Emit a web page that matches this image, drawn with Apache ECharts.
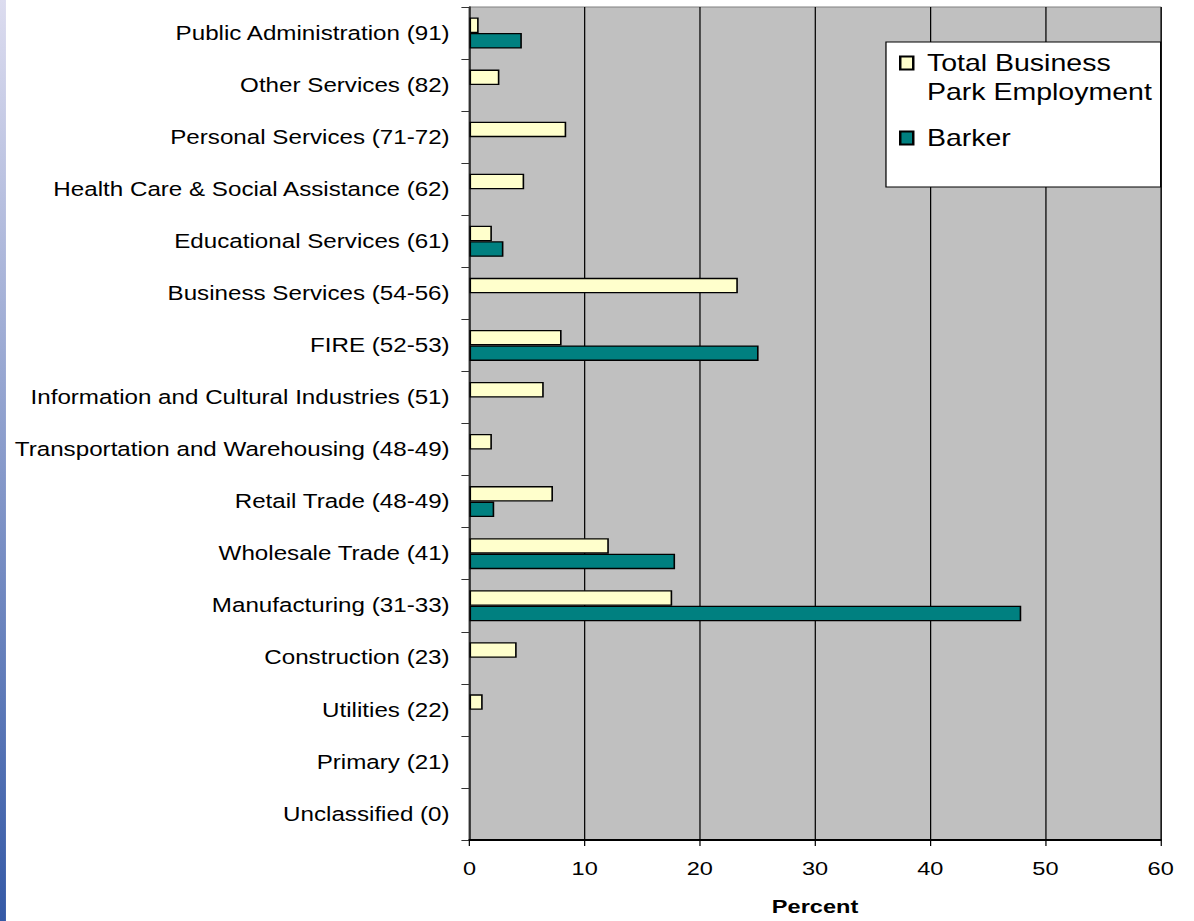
<!DOCTYPE html>
<html>
<head>
<meta charset="utf-8">
<script src="https://cdn.jsdelivr.net/npm/echarts@6/dist/echarts.min.js"></script>
<style>
html, body { margin: 0; padding: 0; background: #fff; overflow: hidden; }
#chart { width: 963px; height: 921px; transform: scaleX(1.24); transform-origin: 0 0; }
</style>
</head>
<body>
<div id="chart"></div>
<script>
// Categories listed top to bottom as in the reference
var categories = [
  "Public Administration (91)",
  "Other Services (82)",
  "Personal Services (71-72)",
  "Health Care & Social Assistance (62)",
  "Educational Services (61)",
  "Business Services (54-56)",
  "FIRE (52-53)",
  "Information and Cultural Industries (51)",
  "Transportation and Warehousing (48-49)",
  "Retail Trade (48-49)",
  "Wholesale Trade (41)",
  "Manufacturing (31-33)",
  "Construction (23)",
  "Utilities (22)",
  "Primary (21)",
  "Unclassified (0)"
];
var totalBusinessPark = [0.8, 2.6, 8.4, 4.75, 1.95, 23.3, 8.0, 6.45, 1.95, 7.25, 12.1, 17.6, 4.1, 1.15, null, null];
var barker = [4.55, null, null, null, 2.95, null, 25.1, null, null, 2.15, 17.85, 47.9, null, null, null, null];
var xTicks = { min: 0, max: 60, interval: 10 };
var seriesNames = ["Total Business\nPark Employment", "Barker"];

var FONT = "'Liberation Sans', Arial, sans-serif";
var chart = echarts.init(document.getElementById('chart'), null, { renderer: 'svg' });

chart.setOption({
  backgroundColor: '#ffffff',
  animation: false,
  graphic: [{
    type: 'rect',
    left: 0, top: 0,
    shape: { width: 4.8, height: 921 },
    style: {
      fill: new echarts.graphic.LinearGradient(0, 0, 0, 1, [
        { offset: 0, color: '#dcdcef' },
        { offset: 1, color: '#3459a6' }
      ])
    },
    silent: true
  }],
  grid: {
    left: 378.6, right: 27, top: 7, bottom: 80,
    show: true, backgroundColor: '#c0c0c0', borderColor: '#808080', borderWidth: 1
  },
  legend: {
    orient: 'vertical',
    left: 714.5, top: 42,
    padding: [5.5, 7, 19, 10.5],
    itemGap: 0.5,
    itemWidth: 10.5, itemHeight: 58,
    backgroundColor: '#ffffff', borderColor: '#000000', borderWidth: 1,
    textStyle: { fontFamily: FONT, fontSize: 23, lineHeight: 29, color: '#000', padding: [0, 0, 0, 6] },
    data: [
      { name: seriesNames[0], icon: 'path://M0,0M0,8L10.5,8L10.5,21L0,21ZM10.5,58' },
      { name: seriesNames[1], icon: 'path://M0,0M0,22.5L10.5,22.5L10.5,35.5L0,35.5ZM10.5,58' }
    ],
    selectedMode: false
  },
  xAxis: {
    type: 'value',
    min: xTicks.min, max: xTicks.max, interval: xTicks.interval,
    name: 'Percent', nameLocation: 'middle', nameGap: 57,
    nameTextStyle: { fontFamily: FONT, fontSize: 19, fontWeight: 'bold', color: '#000' },
    axisLine: { show: true, lineStyle: { color: '#000', width: 2 } },
    axisTick: { show: true, length: 6, lineStyle: { color: '#000', width: 1 } },
    axisLabel: { fontFamily: FONT, fontSize: 19, color: '#000', margin: 19 },
    splitLine: { show: true, lineStyle: { color: '#000', width: 1 } }
  },
  yAxis: {
    type: 'category',
    data: categories,
    inverse: true,
    axisLine: { show: true, lineStyle: { color: '#333', width: 1.5 } },
    axisTick: { show: true, length: 6.5, lineStyle: { color: '#333', width: 1 } },
    axisLabel: { fontFamily: FONT, fontSize: 19.5, color: '#000', margin: 16, interval: 0 },
    splitLine: { show: false }
  },
  series: [
    {
      name: seriesNames[0], type: 'bar', data: totalBusinessPark,
      barWidth: 15.5, barGap: '0%',
      itemStyle: { color: '#ffffcc', borderColor: '#000', borderWidth: 1.3 }
    },
    {
      name: seriesNames[1], type: 'bar', data: barker,
      barWidth: 15.5, barGap: '0%',
      itemStyle: { color: '#008080', borderColor: '#000', borderWidth: 1.3 }
    }
  ]
});
</script>
</body>
</html>
